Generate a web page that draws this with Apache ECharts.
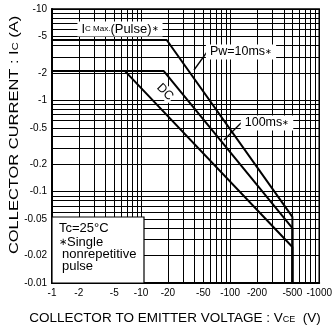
<!DOCTYPE html>
<html><head><meta charset="utf-8">
<script src="https://cdn.jsdelivr.net/npm/echarts@6/dist/echarts.min.js"></script>
<style>html,body{margin:0;padding:0;background:#fff}#c{width:335px;height:328px}</style>
</head><body><div id="c"></div>
<script>
// Data (positive magnitudes; shown with minus sign as in the reference)
const pulse10msV = [1, 19.4, 500, 500];
const pulse10msI = [4.58, 4.58, 0.053, 0.01];
const pulse100msV = [1, 18, 500, 500];
const pulse100msI = [2.09, 2.09, 0.040, 0.01];
const dcV = [1, 6.6, 500, 500];
const dcI = [2.09, 2.09, 0.0248, 0.01];

const xTickLabels = [1, 2, 5, 10, 20, 50, 100, 200, 500, 1000];
const yTickLabels = [10, 5, 2, 1, 0.5, 0.2, 0.1, 0.05, 0.02, 0.01];
const xGridLines = [1,2,3,4,5,6,7,8,9,10,20,30,40,50,60,70,80,90,100,200,300,400,500,600,700,800,900,1000];
const yGridLines = [0.01,0.02,0.03,0.04,0.05,0.06,0.07,0.08,0.09,0.1,0.2,0.3,0.4,0.5,0.6,0.7,0.8,0.9,1,2,3,4,5,6,7,8,9,10];

const zip = (a, b) => a.map((v, i) => [v, b[i]]);
const near = (list, v) => list.some(t => Math.abs(t - v) / t < 1e-6);
const tickFont = 'Liberation Sans Narrow, Liberation Sans, Arial, sans-serif';
const font = 'Liberation Sans, Arial, sans-serif';

const chart = echarts.init(document.getElementById('c'));
const lineSeries = (name, v, i) => ({
  name, type: 'line', data: zip(v, i), symbol: 'none', clip: false,
  lineStyle: { color: '#000', width: 2 }, z: 5
});
chart.setOption({
  animation: false,
  grid: { left: 52, top: 9, width: 275, height: 274, show: true, borderColor: '#000', borderWidth: 1.5, backgroundColor: 'transparent' },
  xAxis: {
    type: 'log', min: 1, max: 1000, logBase: 10,
    axisLine: { show: true, lineStyle: { color: '#000', width: 2 } },
    axisTick: { show: false, customValues: xGridLines },
    splitLine: { show: true, lineStyle: { color: '#000', width: 1 } },
    axisLabel: { customValues: xGridLines, formatter: v => near(xTickLabels, v) ? '-' + v : '', color: '#000', fontSize: 10, fontFamily: tickFont, margin: 5, hideOverlap: false }
  },
  yAxis: {
    type: 'log', min: 0.01, max: 10, logBase: 10,
    axisLine: { show: true, lineStyle: { color: '#000', width: 2 } },
    axisTick: { show: false, customValues: yGridLines },
    splitLine: { show: true, lineStyle: { color: '#000', width: 1 } },
    axisLabel: { customValues: yGridLines, formatter: v => near(yTickLabels, v) ? '-' + v : '', color: '#000', fontSize: 10, fontFamily: tickFont, margin: 5, hideOverlap: false }
  },
  series: [
    lineSeries('Pw=10ms', pulse10msV, pulse10msI),
    lineSeries('100ms', pulse100msV, pulse100msI),
    lineSeries('DC', dcV, dcI)
  ],
  graphic: [
    // legend / condition box
    { type: 'rect', z: 100, shape: { x: 52, y: 217, width: 92, height: 66 }, style: { fill: '#fff', stroke: '#000', lineWidth: 1.2 } },
    { type: 'text', z: 101, x: 59, y: 228, style: { text: 'Tc=25°C', font: '13px ' + font, fill: '#000', verticalAlign: 'middle' } },
    { type: 'text', z: 101, x: 59, y: 242, style: { text: '{s|∗}{n|Single}', fill: '#000', verticalAlign: 'middle', rich: { s: { fontSize: 10, fontFamily: font, fill: '#000' }, n: { fontSize: 13, fontFamily: font, fill: '#000' } } } },
    { type: 'text', z: 101, x: 62, y: 254, style: { text: 'nonrepetitive', font: '13px ' + font, fill: '#000', verticalAlign: 'middle' } },
    { type: 'text', z: 101, x: 62, y: 266, style: { text: 'pulse', font: '13px ' + font, fill: '#000', verticalAlign: 'middle' } },
    // Ic max label
    { type: 'text', z: 101, x: 120, y: 29, style: { text: '{a|I}{b|C Max.}{a|(Pulse)}{b|∗}', align: 'center', verticalAlign: 'middle', backgroundColor: '#fff', padding: [1, 4], rich: { a: { fontSize: 13, fontFamily: font, fill: '#000' }, b: { fontSize: 8, fontFamily: font, fill: '#000' } } } },
    // Pw=10ms label + leader
    { type: 'line', z: 100, shape: { x1: 207, y1: 52, x2: 194, y2: 70 }, style: { stroke: '#000', lineWidth: 1.3 } },
    { type: 'text', z: 101, x: 241, y: 52, style: { text: '{a|Pw=10ms}{b|∗}', align: 'center', verticalAlign: 'middle', backgroundColor: '#fff', padding: [1, 4], rich: { a: { fontSize: 12.5, fontFamily: font, fill: '#000' }, b: { fontSize: 8, fontFamily: font, fill: '#000' } } } },
    // 100ms label + leader
    { type: 'line', z: 100, shape: { x1: 242, y1: 122, x2: 224, y2: 140 }, style: { stroke: '#000', lineWidth: 1.3 } },
    { type: 'text', z: 101, x: 267, y: 123, style: { text: '{a|100ms}{b|∗}', align: 'center', verticalAlign: 'middle', backgroundColor: '#fff', padding: [1, 4], rich: { a: { fontSize: 12.5, fontFamily: font, fill: '#000' }, b: { fontSize: 8, fontFamily: font, fill: '#000' } } } },
    // DC label
    { type: 'text', z: 101, x: 165, y: 92, rotation: -Math.PI / 4, style: { text: 'DC', font: '12.5px ' + font, fill: '#000', align: 'center', verticalAlign: 'middle', backgroundColor: '#fff', padding: [0, 1] } },
    // axis titles
    { type: 'text', z: 101, x: 14, y: 135, rotation: Math.PI / 2, scaleX: 1.22, style: { text: '{a|COLLECTOR CURRENT : I}{b|C}{a| (A)}', align: 'center', verticalAlign: 'middle', rich: { a: { fontSize: 13.5, fontFamily: font, fill: '#000' }, b: { fontSize: 9, fontFamily: font, fill: '#000', padding: [4, 0, 0, 0] } } } },
    { type: 'text', z: 101, x: 175, y: 318, style: { text: '{a|COLLECTOR TO EMITTER VOLTAGE : V}{b|CE}{a|  (V)}', align: 'center', verticalAlign: 'middle', rich: { a: { fontSize: 13.5, fontFamily: font, fill: '#000' }, b: { fontSize: 9, fontFamily: font, fill: '#000', padding: [4, 0, 0, 0] } } } }
  ]
});
</script></body></html>
